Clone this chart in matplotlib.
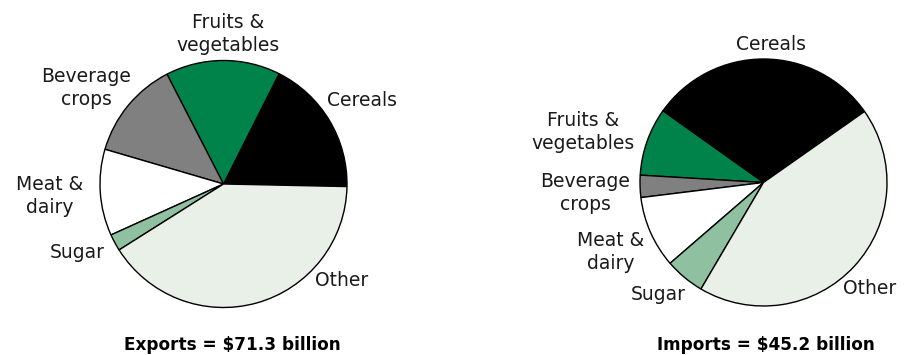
import matplotlib.pyplot as plt

plt.rcParams.update({"font.family": "DejaVu Sans"})

categories = ["Cereals", "Fruits &\nvegetables", "Beverage\ncrops", "Meat &\ndairy", "Sugar", "Other"]
exports = [17.9, 15.0, 12.9, 11.3, 2.2, 40.7]
imports = [30.4, 8.9, 2.9, 9.4, 5.2, 43.2]
export_total = 71.3
import_total = 45.2

colors = ["#000000", "#00834a", "#808080", "#ffffff", "#8fc1a0", "#e8f0e8"]

W, H = 911, 355
fig = plt.figure(figsize=(W / 100, H / 100), dpi=100)
ax = fig.add_axes([0, 0, 1, 1])


def py(y):
    # pixel row (top-down) to axes y
    return H - y


wedge_kw = {"edgecolor": "black", "linewidth": 1.0}
ax.pie(exports, colors=colors, startangle=-1.2, counterclock=True,
       center=(223.5, py(184)), radius=123.5, frame=True, wedgeprops=wedge_kw)
ax.pie(imports, colors=colors, startangle=35.1, counterclock=True,
       center=(763.5, py(182.5)), radius=123.5, frame=True, wedgeprops=wedge_kw)
ax.set_xlim(0, W)
ax.set_ylim(0, H)
ax.set_aspect("auto")
ax.set_axis_off()

fs = 13.5
left_pos = {
    0: (327, 101, "left"),
    1: (228, 34, "center"),
    2: (86, 88, "center"),
    3: (50, 196, "center"),
    4: (77, 253, "center"),
    5: (315, 280, "left"),
}
right_pos = {
    0: (771, 45, "center"),
    1: (583, 132, "center"),
    2: (585, 193, "center"),
    3: (611, 252, "center"),
    4: (658, 295, "center"),
    5: (843, 289, "left"),
}
for pos in (left_pos, right_pos):
    for i, (x, y, ha) in pos.items():
        ax.text(x, py(y), categories[i], fontsize=fs, ha=ha, va="center",
                linespacing=1.3, color="#1a1a1a")

ax.text(232, py(345), f"Exports = ${export_total} billion", fontsize=12.2,
        fontweight="bold", ha="center", va="center")
ax.text(766, py(345), f"Imports = ${import_total} billion", fontsize=12.2,
        fontweight="bold", ha="center", va="center")

fig.savefig("out.png", dpi=100)
